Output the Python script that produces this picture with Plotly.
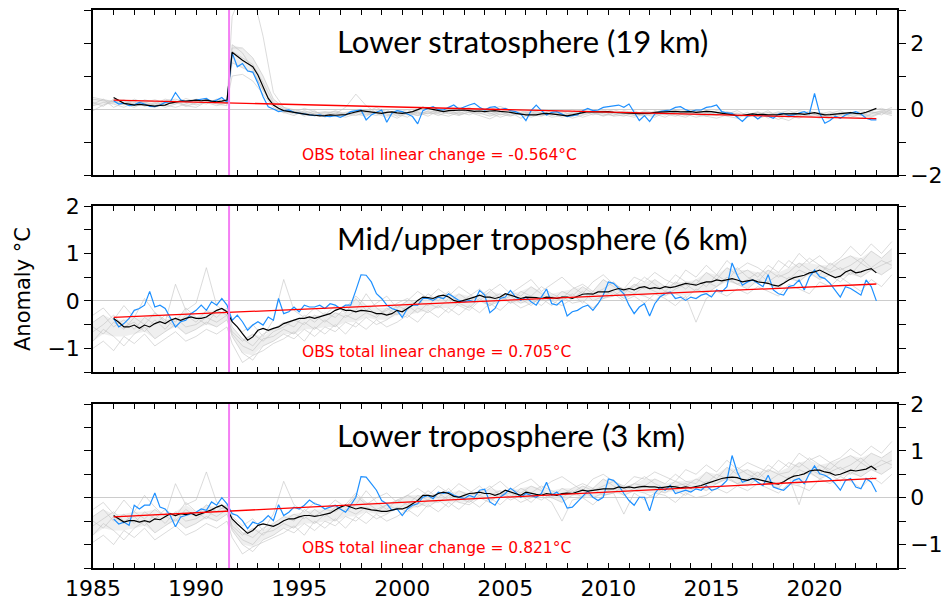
import numpy as np
import plotly.graph_objects as go
from plotly.subplots import make_subplots

# ---------------- data ----------------
OBS_START = 1986.0          # first month of observed / ensemble-mean series
OBS_STEP = 0.25             # quarterly samples
ERUPTION = 1991.6           # Pinatubo
TREND_T = [1986.0, 2023.0]

# ensemble-member time grid (semiannual, with a point just after the eruption)
G_T = np.concatenate([np.arange(1985.0, 1991.6, 0.5), np.arange(1991.75, 2023.8, 0.5)])

TITLES = ["Lower stratosphere (19 km)", "Mid/upper troposphere (6 km)", "Lower troposphere (3 km)"]
TOTAL_CHANGE = [-0.564, 0.705, 0.821]
TREND_START = [0.27, -0.35, -0.41]

# ---- panel 1: lower stratosphere ----
OBS_1 = [
    0.25, 0.15, 0.18, 0.10,
    0.13, 0.20, 0.15, 0.08,
    0.07, 0.12, 0.20, 0.22,
    0.50, 0.28, 0.22, 0.25,
    0.27, 0.30, 0.32, 0.22,
    0.27, 0.35, 0.20, 1.70,
    1.28, 1.38, 1.15, 1.12,
    0.78, 0.37, 0.07, 0.00,
    -0.08, -0.05, -0.03, -0.10,
    -0.13, -0.15, -0.18, -0.20,
    -0.18, -0.22, -0.23, -0.20,
    -0.25, -0.18, -0.08, -0.05,
    -0.03, -0.33, -0.18, -0.10,
    -0.03, -0.40, -0.13, -0.05,
    -0.08, -0.15, -0.23, -0.45,
    -0.05, 0.02, 0.07, -0.02,
    -0.03, 0.05, 0.12, 0.00,
    0.07, 0.12, 0.17, 0.05,
    -0.03, 0.05, 0.07, -0.02,
    0.02, -0.05, -0.08, -0.15,
    -0.35, -0.05, 0.12, -0.05,
    -0.18, -0.10, -0.08, -0.15,
    -0.23, -0.20, -0.18, -0.05,
    0.02, -0.05, -0.03, 0.05,
    0.07, 0.10, 0.12, 0.05,
    0.15, -0.10, -0.35, -0.20,
    -0.38, -0.15, -0.08, -0.05,
    -0.03, 0.05, 0.07, -0.02,
    -0.08, -0.03, -0.03, 0.05,
    0.07, 0.12, -0.08, -0.12,
    -0.13, -0.25, -0.38, -0.22,
    -0.18, -0.30, -0.18, -0.22,
    -0.28, -0.15, -0.13, -0.20,
    -0.18, -0.12, -0.08, -0.15,
    0.47, -0.13, -0.43, -0.35,
    -0.22, -0.28, -0.18, -0.12,
    -0.08, -0.15, -0.28, -0.33,
    -0.33,
]
MEAN_1 = [
    0.35, 0.25, 0.17, 0.15,
    0.12, 0.14, 0.12, 0.10,
    0.09, 0.11, 0.12, 0.18,
    0.22, 0.24, 0.24, 0.25,
    0.27, 0.25, 0.27, 0.24,
    0.22, 0.24, 0.27, 1.72,
    1.59, 1.48, 1.38, 1.28,
    1.03, 0.68, 0.32, 0.12,
    0.02, -0.05, -0.08, -0.11,
    -0.13, -0.15, -0.18, -0.19,
    -0.21, -0.20, -0.18, -0.19,
    -0.18, -0.17, -0.13, -0.10,
    -0.05, -0.07, -0.09, -0.12,
    -0.13, -0.10, -0.09, -0.12,
    -0.13, -0.11, -0.08, -0.02,
    0.05, 0.02, -0.01, -0.04,
    -0.08, -0.05, -0.04, -0.03,
    -0.03, -0.05, -0.07, -0.06,
    -0.08, -0.06, -0.05, -0.07,
    -0.08, -0.10, -0.13, -0.16,
    -0.18, -0.18, -0.18, -0.15,
    -0.13, -0.15, -0.17, -0.19,
    -0.21, -0.18, -0.14, -0.10,
    -0.08, -0.09, -0.08, -0.09,
    -0.08, -0.10, -0.11, -0.12,
    -0.11, -0.12, -0.14, -0.13,
    -0.13, -0.10, -0.09, -0.08,
    -0.08, -0.07, -0.09, -0.08,
    -0.08, -0.10, -0.08, -0.07,
    -0.08, -0.10, -0.13, -0.16,
    -0.18, -0.20, -0.19, -0.16,
    -0.15, -0.17, -0.16, -0.18,
    -0.18, -0.17, -0.15, -0.14,
    -0.13, -0.14, -0.16, -0.14,
    -0.11, -0.15, -0.18, -0.17,
    -0.16, -0.14, -0.12, -0.11,
    -0.13, -0.14, -0.10, -0.04,
    0.02,
]
MEMBERS_1 = [
    [0.30, 0.25, 0.20, 0.28, 0.15, 0.22, 0.10, 0.25, 0.30, 0.20, 0.28, 0.18, 0.25, 0.20,
     1.95, 1.70, 1.20, 0.55, 0.10,
     -0.05, -0.15, -0.10, -0.20, -0.15,
     -0.22, -0.10, -0.05, -0.12, -0.20, -0.08, -0.15, -0.25, -0.05, 0.02,
     -0.10, -0.05, 0.05, -0.12, -0.02, -0.15, -0.08, -0.20, -0.12, -0.25,
     -0.15, -0.05, -0.18, -0.10, -0.02, -0.12, -0.20, -0.08, -0.15, -0.05,
     -0.18, -0.10, -0.02, -0.12, -0.20, -0.15, -0.05, -0.12, -0.22, -0.28,
     -0.15, -0.22, -0.10, -0.18, -0.25, -0.12, -0.20, -0.15, -0.08, -0.18,
     -0.10, -0.20, -0.05, 0.02, -0.08],
    [0.10, 0.20, 0.15, 0.05, 0.20, 0.12, 0.18, 0.05, 0.15, 0.25, 0.12, 0.20, 0.10, 0.18,
     2.80, 3.60, 3.50, 2.20, 0.50,
     0.05, -0.10, 0.02, -0.08, -0.18,
     -0.05, -0.15, -0.20, -0.10, 0.05, -0.12, -0.05, -0.18, -0.10, -0.22,
     -0.05, -0.15, -0.08, 0.05, -0.10, -0.02, 0.08, -0.05, -0.15, -0.08,
     -0.20, -0.12, -0.25, -0.15, -0.05, -0.18, -0.10, -0.02, -0.12, -0.20,
     -0.08, -0.15, -0.25, -0.10, -0.05, -0.18, -0.22, -0.10, -0.15, -0.05,
     -0.20, -0.10, -0.28, -0.15, -0.12, -0.22, -0.05, -0.18, -0.25, -0.10,
     -0.15, -0.05, -0.12, -0.08, 0.05],
    [0.35, 0.28, 0.22, 0.12, 0.30, 0.18, 0.05, 0.20, 0.15, 0.32, 0.22, 0.15, 0.30, 0.25,
     1.00, 1.05, 0.85, 0.45, 0.05,
     -0.12, -0.05, -0.22, -0.12, -0.08,
     -0.15, 0.05, 0.45, 0.10, -0.12, -0.20, -0.10, -0.02, -0.15, -0.08,
     -0.20, -0.08, -0.15, -0.02, -0.12, -0.22, -0.10, -0.05, -0.18, -0.10,
     -0.05, -0.20, -0.10, -0.02, -0.15, -0.08, -0.02, -0.15, -0.22, -0.10,
     -0.12, -0.20, -0.08, -0.02, -0.10, -0.05, -0.15, -0.20, -0.08, -0.15,
     -0.25, -0.12, -0.18, -0.32, -0.15, -0.05, -0.12, -0.20, -0.15, -0.25,
     -0.18, -0.12, -0.22, -0.10, -0.15],
    [0.20, 0.08, 0.30, 0.25, 0.10, 0.28, 0.20, 0.12, 0.05, 0.15, 0.30, 0.25, 0.15, 0.10,
     1.75, 1.55, 1.35, 0.80, 0.20,
     0.00, -0.08, -0.18, -0.05, -0.25,
     -0.12, -0.20, -0.08, -0.18, -0.10, -0.02, -0.22, -0.12, -0.08, -0.15,
     0.00, -0.12, -0.20, -0.08, -0.15, -0.05, -0.18, -0.10, -0.28, -0.15,
     -0.10, -0.18, -0.05, -0.22, -0.12, -0.02, -0.15, -0.20, -0.05, -0.12,
     -0.22, -0.05, -0.15, -0.22, -0.12, -0.02, -0.10, -0.18, -0.12, -0.20,
     -0.10, -0.30, -0.18, -0.08, -0.20, -0.28, -0.15, -0.10, -0.20, -0.12,
     -0.25, -0.15, -0.08, -0.18, 0.00],
    [0.15, 0.30, 0.05, 0.18, 0.25, 0.08, 0.15, 0.30, 0.22, 0.08, 0.18, 0.30, 0.20, 0.28,
     1.85, 1.85, 1.55, 1.00, 0.30,
     0.05, -0.02, -0.12, -0.18, -0.10,
     -0.08, -0.18, -0.12, -0.02, -0.15, -0.25, -0.05, -0.10, -0.20, -0.12,
     -0.15, -0.22, -0.10, -0.18, -0.05, -0.12, -0.25, -0.15, -0.05, -0.18,
     -0.22, -0.10, -0.15, -0.28, -0.18, -0.10, -0.22, -0.12, -0.08, -0.18,
     -0.05, -0.12, -0.18, -0.08, -0.15, -0.25, -0.18, -0.05, -0.10, -0.22,
     -0.18, -0.08, -0.22, -0.12, -0.05, -0.15, -0.22, -0.28, -0.12, -0.05,
     -0.20, -0.28, -0.15, -0.05, -0.12],
    [-0.05, 0.12, 0.25, 0.15, 0.05, 0.20, 0.28, 0.18, 0.25, 0.10, 0.05, 0.22, 0.28, 0.15,
     1.40, 1.25, 1.10, 0.60, 0.15,
     -0.10, -0.20, -0.05, -0.15, -0.22,
     -0.18, -0.25, -0.15, -0.22, -0.05, -0.15, -0.28, -0.12, -0.20, -0.05,
     -0.12, 0.02, -0.18, -0.10, -0.20, -0.30, -0.15, -0.22, -0.10, -0.05,
     -0.12, -0.25, -0.20, -0.12, -0.25, -0.15, -0.05, -0.22, -0.18, -0.25,
     -0.15, -0.25, -0.10, -0.18, -0.25, -0.10, -0.22, -0.28, -0.18, -0.12,
     -0.22, -0.18, -0.05, -0.25, -0.35, -0.18, -0.10, -0.22, -0.30, -0.20,
     -0.10, -0.18, -0.25, -0.12, -0.20],
]

# ---- panel 2: mid/upper troposphere ----
OBS_2 = [
    -0.37, -0.55, -0.48, -0.37,
    -0.20, -0.16, -0.09, 0.20,
    -0.13, -0.09, -0.16, -0.37,
    -0.55, -0.44, -0.41, -0.27,
    -0.20, -0.09, -0.20, -0.02,
    -0.09, 0.05, -0.09, -0.41,
    -0.30, -0.44, -0.62, -0.51,
    -0.44, -0.51, -0.34, -0.41,
    0.05, -0.27, -0.23, -0.13,
    -0.23, -0.09, -0.13, -0.13,
    -0.09, -0.16, -0.06, -0.09,
    -0.16, -0.09, -0.09, 0.22,
    0.55, 0.54, 0.40, 0.15,
    0.05, -0.09, -0.16, -0.20,
    -0.35, -0.16, -0.09, -0.09,
    0.05, 0.05, 0.01, 0.08,
    0.05, 0.15, 0.08, 0.01,
    -0.02, 0.01, -0.02, 0.22,
    0.12, -0.25, -0.16, 0.05,
    0.08, 0.22, 0.08, 0.01,
    0.08, -0.02, -0.09, 0.08,
    0.25, -0.06, -0.09, 0.01,
    -0.32, -0.23, -0.20, -0.13,
    -0.09, -0.20, -0.06, 0.12,
    0.40, 0.37, 0.26, 0.15,
    -0.09, -0.27, -0.13, -0.06,
    -0.32, -0.06, 0.08, 0.15,
    0.19, 0.05, 0.08, 0.01,
    0.08, 0.05, 0.12, 0.15,
    0.08, 0.23, 0.19, 0.30,
    0.80, 0.54, 0.33, 0.40,
    0.44, 0.37, 0.30, 0.55,
    0.23, 0.15, 0.12, 0.30,
    0.33, 0.44, 0.23, 0.50,
    0.65, 0.51, 0.47, 0.37,
    0.23, 0.08, 0.30, 0.26,
    0.19, 0.12, 0.44, 0.30,
    0.00,
]
MEAN_2 = [
    -0.37, -0.45, -0.55, -0.55,
    -0.51, -0.58, -0.51, -0.55,
    -0.48, -0.44, -0.48, -0.41,
    -0.37, -0.41, -0.37, -0.34,
    -0.37, -0.37, -0.34, -0.27,
    -0.20, -0.16, -0.23, -0.44,
    -0.55, -0.69, -0.83, -0.76,
    -0.62, -0.58, -0.62, -0.58,
    -0.55, -0.48, -0.44, -0.41,
    -0.37, -0.37, -0.34, -0.37,
    -0.34, -0.30, -0.27, -0.20,
    -0.16, -0.20, -0.20, -0.23,
    -0.20, -0.21, -0.23, -0.27,
    -0.27, -0.30, -0.27, -0.20,
    -0.23, -0.16, -0.09, 0.01,
    0.08, 0.07, 0.05, 0.10,
    0.12, 0.08, 0.01, -0.02,
    0.01, 0.05, 0.08, 0.12,
    0.08, 0.08, 0.05, 0.08,
    0.15, 0.12, 0.08, 0.05,
    0.08, 0.08, 0.07, 0.05,
    0.08, 0.07, 0.05, 0.08,
    0.08, 0.05, 0.10, 0.14,
    0.15, 0.14, 0.19, 0.19,
    0.19, 0.23, 0.26, 0.23,
    0.26, 0.23, 0.28, 0.30,
    0.26, 0.28, 0.26, 0.30,
    0.28, 0.30, 0.33, 0.37,
    0.35, 0.33, 0.37, 0.40,
    0.40, 0.44, 0.42, 0.45,
    0.47, 0.44, 0.40, 0.42,
    0.44, 0.40, 0.38, 0.37,
    0.33, 0.31, 0.37, 0.44,
    0.49, 0.52, 0.54, 0.59,
    0.61, 0.65, 0.59, 0.54,
    0.49, 0.52, 0.61, 0.65,
    0.59, 0.61, 0.65, 0.68,
    0.59,
]
MEMBERS_2 = [
    [-0.55, -0.70, -0.45, -0.60, -0.35, -0.50, -0.25, -0.40, -0.55, -0.30, -0.45, -0.20, -0.35, -0.15,
     -0.55, -0.80, -0.95, -0.70, -0.60,
     -0.45, -0.55, -0.30, -0.45, -0.25,
     -0.35, -0.15, 0.10, -0.10, -0.30, -0.20, -0.05, 0.05, -0.10, 0.15,
     0.00, 0.20, -0.05, 0.10, 0.25, 0.05, 0.15, -0.05, 0.20, 0.10,
     0.30, 0.15, 0.05, 0.25, 0.35, 0.20, 0.45, 0.30, 0.15, 0.35,
     0.25, 0.45, 0.30, 0.55, 0.40, 0.35, 0.60, 0.45, 0.70, 0.55,
     0.65, 0.50, 0.75, 0.60, 0.85, 0.70, 0.90, 0.75, 0.65, 0.85,
     0.95, 0.80, 1.05, 0.90, 1.10],
    [-0.85, -0.60, -0.75, -0.95, -0.70, -0.55, -0.80, -0.65, -0.50, -0.70, -0.60, -0.45, -0.55, -0.40,
     -0.75, -1.10, -1.25, -0.95, -0.85,
     -0.70, -0.80, -0.60, -0.75, -0.55,
     -0.65, -0.45, -0.55, -0.35, -0.50, -0.40, -0.25, -0.35, -0.15, -0.25,
     -0.10, -0.25, -0.05, -0.15, 0.05, -0.10, 0.00, 0.10, -0.05, 0.05,
     -0.10, 0.10, 0.00, 0.15, -0.05, 0.20, 0.05, 0.10, 0.25, 0.15,
     0.30, 0.20, 0.10, 0.25, 0.35, 0.20, 0.40, 0.30, 0.50, 0.35,
     0.45, 0.60, 0.40, 0.55, 0.45, 0.65, 0.55, 0.75, 0.60, 0.70,
     0.55, 0.80, 0.65, 0.75, 0.85],
    [-0.30, -0.15, -0.40, -0.10, -0.35, 0.05, -0.25, -0.45, 0.35, -0.20, -0.05, 0.70, -0.10, -0.25,
     -0.45, -0.65, -0.50, -0.75, -0.40,
     0.45, -0.20, -0.35, -0.15, -0.30,
     -0.10, -0.25, 0.05, -0.20, -0.05, 0.10, -0.15, 0.00, 0.20, 0.05,
     0.25, 0.10, 0.30, 0.15, 0.00, 0.20, 0.35, 0.15, 0.30, 0.45,
     0.20, 0.35, 0.50, 0.30, 0.15, 0.40, 0.55, 0.35, 0.25, 0.50,
     0.40, 0.60, 0.45, 0.35, 0.65, 0.50, 0.75, 0.55, 0.85, 0.65,
     0.80, 0.70, 0.55, 0.85, 0.70, 1.00, 0.80, 0.95, 0.75, 0.90,
     1.15, 0.95, 1.20, 1.00, 1.25],
    [-1.00, -0.85, -1.05, -0.75, -0.90, -0.70, -0.95, -0.80, -0.65, -0.85, -0.75, -0.60, -0.70, -0.55,
     -0.90, -1.30, -1.15, -1.05, -0.90,
     -0.80, -0.65, -0.85, -0.55, -0.70,
     -0.50, -0.70, -0.45, -0.60, -0.40, -0.55, -0.45, -0.30, -0.45, -0.20,
     -0.35, -0.15, -0.30, -0.10, -0.25, -0.05, -0.20, 0.00, -0.15, -0.05,
     0.05, -0.10, 0.10, -0.05, 0.00, -0.15, 0.05, 0.15, 0.00, 0.10,
     -0.05, 0.15, 0.05, -0.10, 0.10, -0.45, 0.05, 0.20, 0.10, 0.25,
     0.15, 0.30, 0.20, 0.10, 0.35, 0.25, 0.15, 0.40, 0.30, 0.50,
     0.35, 0.20, 0.45, 0.30, 0.55],
    [-0.45, -0.30, -0.55, -0.40, -0.60, -0.35, -0.50, -0.30, -0.45, -0.15, -0.35, -0.50, -0.20, -0.30,
     -0.65, -0.85, -0.70, -0.85, -0.65,
     -0.55, -0.40, -0.50, -0.30, -0.45,
     -0.25, -0.35, -0.20, 0.15, -0.15, -0.30, -0.10, -0.20, 0.00, -0.10,
     0.10, -0.05, 0.15, 0.00, 0.10, 0.25, 0.05, 0.20, 0.10, 0.30,
     0.15, 0.00, 0.20, 0.10, 0.30, 0.15, 0.25, 0.40, 0.20, 0.30,
     0.50, 0.35, 0.20, 0.40, 0.25, 0.45, 0.30, 0.55, 0.40, 0.70,
     0.50, 0.40, 0.65, 0.50, 0.60, 0.80, 0.65, 0.55, 0.80, 0.65,
     0.75, 0.90, 0.70, 0.85, 0.75],
    [-0.65, -0.50, -0.30, -0.55, -0.45, -0.65, -0.40, -0.60, -0.35, -0.55, -0.50, -0.35, -0.45, -0.30,
     -0.70, -0.95, -1.05, -0.80, -0.75,
     -0.60, -0.70, -0.45, -0.60, -0.40,
     -0.55, -0.30, -0.40, -0.25, -0.35, -0.15, -0.30, -0.10, -0.25, -0.05,
     -0.15, 0.05, -0.10, -0.20, 0.00, -0.10, 0.10, -0.05, 0.05, -0.10,
     0.10, 0.00, -0.10, 0.05, 0.20, 0.00, 0.10, 0.20, 0.05, 0.15,
     0.10, 0.00, 0.20, 0.15, 0.05, 0.25, 0.15, 0.30, 0.45, 0.35,
     0.25, 0.45, 0.35, 0.25, 0.50, 0.40, 0.60, 0.45, 0.55, 0.40,
     0.60, 0.50, 0.65, 0.55, 0.70],
]

# ---- panel 3: lower troposphere ----
OBS_3 = [
    -0.45, -0.56, -0.52, -0.59,
    -0.16, -0.24, -0.16, -0.16,
    0.10, -0.20, -0.24, -0.38,
    -0.62, -0.41, -0.38, -0.34,
    -0.31, -0.24, -0.27, -0.09,
    -0.16, 0.00, -0.13, -0.34,
    -0.38, -0.49, -0.66, -0.52,
    -0.56, -0.49, -0.38, -0.49,
    -0.15, -0.38, -0.31, -0.20,
    -0.24, -0.16, -0.05, -0.13,
    -0.16, -0.24, -0.20, -0.16,
    -0.24, -0.31, -0.16, 0.01,
    0.45, 0.44, 0.30, 0.16,
    -0.06, -0.13, -0.27, -0.24,
    -0.38, -0.24, -0.16, -0.13,
    0.01, 0.05, -0.02, 0.12,
    0.09, 0.12, 0.05, 0.01,
    -0.02, 0.05, 0.01, 0.16,
    0.18, -0.09, -0.16, 0.01,
    0.09, 0.20, 0.12, 0.01,
    0.09, 0.05, 0.01, 0.09,
    0.33, 0.05, 0.12, 0.01,
    -0.22, -0.20, -0.09, 0.01,
    0.14, 0.01, -0.06, 0.01,
    0.40, 0.37, 0.26, 0.09,
    -0.06, -0.16, 0.01, 0.01,
    -0.28, 0.09, 0.23, 0.16,
    0.26, 0.09, 0.12, 0.16,
    0.12, 0.19, 0.16, 0.26,
    0.16, 0.19, 0.26, 0.37,
    0.90, 0.55, 0.33, 0.37,
    0.41, 0.33, 0.26, 0.48,
    0.23, 0.19, 0.16, 0.26,
    0.37, 0.41, 0.30, 0.51,
    0.68, 0.51, 0.48, 0.41,
    0.30, 0.16, 0.37, 0.41,
    0.23, 0.19, 0.41, 0.33,
    0.12,
]
MEAN_3 = [
    -0.38, -0.45, -0.52, -0.49,
    -0.49, -0.52, -0.49, -0.52,
    -0.45, -0.47, -0.41, -0.34,
    -0.38, -0.34, -0.36, -0.33,
    -0.38, -0.34, -0.31, -0.26,
    -0.20, -0.16, -0.24, -0.45,
    -0.56, -0.66, -0.76, -0.70,
    -0.59, -0.56, -0.59, -0.61,
    -0.56, -0.49, -0.45, -0.45,
    -0.41, -0.38, -0.38, -0.40,
    -0.38, -0.36, -0.33, -0.26,
    -0.20, -0.16, -0.20, -0.24,
    -0.21, -0.24, -0.26, -0.27,
    -0.29, -0.29, -0.27, -0.24,
    -0.24, -0.20, -0.13, -0.06,
    0.05, 0.05, 0.03, 0.09,
    0.12, 0.09, 0.03, 0.01,
    0.05, 0.09, 0.10, 0.12,
    0.09, 0.09, 0.05, 0.09,
    0.16, 0.12, 0.09, 0.05,
    0.12, 0.09, 0.07, 0.05,
    0.09, 0.07, 0.05, 0.09,
    0.10, 0.09, 0.12, 0.16,
    0.14, 0.16, 0.17, 0.19,
    0.19, 0.19, 0.23, 0.21,
    0.23, 0.21, 0.23, 0.24,
    0.23, 0.23, 0.21, 0.23,
    0.24, 0.23, 0.21, 0.23,
    0.21, 0.24, 0.26, 0.30,
    0.34, 0.37, 0.41, 0.43,
    0.44, 0.43, 0.39, 0.37,
    0.41, 0.39, 0.36, 0.34,
    0.31, 0.29, 0.34, 0.41,
    0.46, 0.48, 0.51, 0.57,
    0.59, 0.59, 0.55, 0.53,
    0.48, 0.50, 0.55, 0.59,
    0.57, 0.59, 0.61, 0.67,
    0.59,
]
MEMBERS_3 = [
    [-0.50, -0.65, -0.40, -0.55, -0.30, -0.45, -0.25, -0.40, -0.50, -0.25, -0.40, -0.15, -0.30, -0.15,
     -0.50, -0.75, -0.85, -0.65, -0.55,
     -0.40, -0.50, -0.25, -0.40, -0.25,
     -0.30, -0.15, 0.10, -0.10, -0.25, -0.15, -0.05, 0.05, -0.05, 0.15,
     0.00, 0.20, -0.05, 0.10, 0.25, 0.05, 0.15, 0.00, 0.20, 0.10,
     0.25, 0.15, 0.05, 0.20, 0.30, 0.20, 0.40, 0.25, 0.15, 0.30,
     0.25, 0.40, 0.30, 0.50, 0.35, 0.30, 0.55, 0.40, 0.65, 0.50,
     0.60, 0.45, 0.70, 0.55, 0.75, 0.65, 0.85, 0.70, 0.60, 0.80,
     0.90, 0.75, 0.95, 0.85, 1.00],
    [-0.80, -0.55, -0.70, -0.90, -0.65, -0.50, -0.75, -0.60, -0.45, -0.65, -0.55, -0.40, -0.50, -0.35,
     -0.70, -1.00, -1.15, -0.90, -0.80,
     -0.65, -0.75, -0.55, -0.70, -0.50,
     -0.60, -0.40, -0.50, -0.30, -0.45, -0.35, -0.20, -0.30, -0.10, -0.20,
     -0.05, -0.20, 0.00, -0.10, 0.05, -0.05, 0.05, 0.10, 0.00, 0.05,
     -0.05, 0.10, 0.00, 0.15, 0.00, 0.20, 0.05, 0.10, 0.25, 0.15,
     0.25, 0.20, 0.10, 0.25, 0.30, 0.20, 0.35, 0.30, 0.45, 0.30,
     0.40, 0.55, 0.35, 0.50, 0.40, 0.60, 0.50, 0.70, 0.55, 0.65,
     0.50, 0.75, 0.60, 0.70, 0.80],
    [-0.25, -0.10, -0.35, -0.05, -0.30, 0.05, -0.20, -0.40, 0.30, -0.15, -0.05, 0.55, -0.10, -0.20,
     -0.40, -0.60, -0.45, -0.70, -0.35,
     0.35, -0.15, -0.30, -0.10, -0.25,
     -0.05, -0.20, 0.05, -0.15, 0.00, 0.10, -0.10, 0.05, 0.20, 0.05,
     0.25, 0.10, 0.30, 0.15, 0.05, 0.20, 0.35, 0.15, 0.30, 0.40,
     0.20, 0.35, 0.45, 0.30, 0.15, 0.40, 0.50, 0.35, 0.25, 0.45,
     0.40, 0.55, 0.45, 0.35, 0.60, 0.50, 0.70, 0.55, 0.80, 0.60,
     0.75, 0.65, 0.55, 0.80, 0.65, 0.95, 0.80, 0.90, 0.75, 0.85,
     1.05, 0.90, 1.10, 0.95, 1.20],
    [-0.95, -0.80, -1.00, -0.70, -0.85, -0.65, -0.90, -0.75, -0.60, -0.80, -0.70, -0.55, -0.65, -0.50,
     -0.85, -1.20, -1.05, -0.95, -0.85,
     -0.75, -0.60, -0.80, -0.50, -0.65,
     -0.45, -0.65, -0.40, -0.55, -0.35, -0.50, -0.40, -0.25, -0.40, -0.15,
     -0.30, -0.10, -0.25, -0.05, -0.20, 0.00, -0.15, 0.05, -0.10, 0.00,
     0.05, -0.10, -0.50, -0.05, 0.00, -0.15, 0.05, 0.10, -0.35, 0.10,
     -0.05, 0.10, 0.05, -0.10, 0.10, 0.00, 0.05, 0.20, 0.10, 0.25,
     0.15, 0.30, 0.20, 0.10, 0.30, 0.25, 0.15, 0.40, 0.30, 0.45,
     0.35, 0.20, 0.45, 0.30, 0.50],
    [-0.40, -0.25, -0.50, -0.35, -0.55, -0.30, -0.45, -0.25, -0.40, -0.10, -0.30, -0.45, -0.20, -0.25,
     -0.60, -0.80, -0.65, -0.80, -0.60,
     -0.50, -0.35, -0.45, -0.25, -0.40,
     -0.20, -0.30, -0.15, 0.15, -0.10, -0.25, -0.05, -0.15, 0.05, -0.05,
     0.10, -0.05, 0.15, 0.05, 0.10, 0.25, 0.05, 0.20, 0.10, 0.25,
     0.15, 0.00, 0.20, 0.10, 0.25, 0.15, 0.25, 0.35, 0.20, 0.30,
     0.45, 0.30, 0.20, 0.35, 0.25, 0.40, 0.30, 0.50, 0.40, 0.65,
     0.50, 0.40, 0.60, 0.50, 0.55, 0.75, 0.60, 0.50, 0.75, 0.60,
     0.70, 0.85, 0.65, 0.80, 0.70],
    [-0.60, -0.45, -0.30, -0.50, -0.40, -0.60, -0.35, -0.55, -0.30, -0.50, -0.45, -0.30, -0.40, -0.25,
     -0.65, -0.90, -1.00, -0.75, -0.70,
     -0.55, -0.65, -0.40, -0.55, -0.35,
     -0.50, -0.25, -0.35, -0.20, -0.30, -0.15, -0.25, -0.10, -0.20, -0.05,
     -0.10, 0.05, -0.10, -0.15, 0.00, -0.10, 0.10, -0.05, 0.05, -0.10,
     0.10, 0.00, -0.10, 0.05, 0.15, 0.00, 0.10, 0.20, 0.05, 0.15,
     0.10, 0.00, 0.20, 0.15, 0.05, 0.25, 0.15, 0.30, 0.40, 0.30,
     0.25, 0.40, 0.30, 0.20, 0.45, -0.15, 0.55, 0.40, 0.50, 0.35,
     0.55, 0.45, 0.60, 0.50, 0.65],
]

OBS = [OBS_1, OBS_2, OBS_3]
MEAN = [MEAN_1, MEAN_2, MEAN_3]
MEMBERS = [MEMBERS_1, MEMBERS_2, MEMBERS_3]

Y_RANGES = [[-2, 3], [-1.5, 2], [-1.5, 2]]
Y_DTICK = [2, 1, 1]
Y_MINOR = [1, 0.5, 0.5]
Y_SIDE = ["right", "left", "right"]

# ---------------- figure ----------------
W, H = 947, 608
ML, MR, MT, MB = 93, 50, 10, 40
PH = H - MT - MB

def dom(top_px, bot_px):
    return [(H - MB - bot_px) / PH, (H - MB - top_px) / PH]

DOMAINS = [dom(10, 175), dom(206, 372), dom(404, 568)]

fig = make_subplots(rows=3, cols=1, shared_xaxes=True)

GRAY = "rgba(195,195,195,0.6)"
BAND = "rgba(228,228,228,0.6)"
BLUE = "#1e90ff"
TICKFONT = dict(family="DejaVu Sans", size=22, color="black")

for i in range(3):
    r = i + 1
    t_obs = OBS_START + OBS_STEP * np.arange(len(OBS[i]))
    t_mean = OBS_START + OBS_STEP * np.arange(len(MEAN[i]))
    srt = np.sort(np.array(MEMBERS[i]), axis=0)
    lo, hi = srt[1], srt[-2]           # inner envelope of the ensemble
    fig.add_trace(go.Scatter(x=G_T, y=lo, mode="lines", line=dict(width=0, color=BAND),
                             hoverinfo="skip", showlegend=False), row=r, col=1)
    fig.add_trace(go.Scatter(x=G_T, y=hi, mode="lines", line=dict(width=0, color=BAND),
                             fill="tonexty", fillcolor=BAND,
                             hoverinfo="skip", showlegend=False), row=r, col=1)
    for m in MEMBERS[i]:
        fig.add_trace(go.Scatter(x=G_T[:len(m)], y=m, mode="lines",
                                 line=dict(color=GRAY, width=1),
                                 hoverinfo="skip", showlegend=False), row=r, col=1)
    fig.add_trace(go.Scatter(x=t_obs, y=OBS[i], mode="lines",
                             line=dict(color=BLUE, width=1.2), showlegend=False), row=r, col=1)
    fig.add_trace(go.Scatter(x=t_mean, y=MEAN[i], mode="lines",
                             line=dict(color="black", width=1.2), showlegend=False), row=r, col=1)
    fig.add_trace(go.Scatter(x=TREND_T, y=[TREND_START[i], TREND_START[i] + TOTAL_CHANGE[i]],
                             mode="lines", line=dict(color="red", width=1.3),
                             showlegend=False), row=r, col=1)
    fig.add_vline(x=ERUPTION, line=dict(color="#f47ef4", width=2), row=r, col=1)

    xref = "x domain" if r == 1 else f"x{r} domain"
    yref = "y domain" if r == 1 else f"y{r} domain"
    fig.add_annotation(text=TITLES[i], xref=xref, yref=yref, x=0.301, y=0.81,
                       xanchor="left", yanchor="middle", showarrow=False,
                       font=dict(family="Lato", size=31, color="black"))
    fig.add_annotation(text=f"OBS total linear change = {TOTAL_CHANGE[i]:.3f}°C",
                       xref=xref, yref=yref, x=0.2575, y=0.12,
                       xanchor="left", yanchor="middle", showarrow=False,
                       font=dict(family="DejaVu Sans", size=15.5, color="red"))

    ax = dict(range=[1985, 2024], tickmode="linear", tick0=1985, dtick=5,
              ticks="inside", ticklen=5, tickwidth=1.2, tickcolor="black",
              minor=dict(dtick=1, tick0=1985, ticks="inside", ticklen=5, tickcolor="black",
                         tickwidth=1, showgrid=False),
              showline=True, linecolor="black", linewidth=1.5, mirror="ticks",
              showgrid=False, zeroline=False, tickfont=TICKFONT, automargin=False,
              showticklabels=(r == 3))
    ay = dict(range=Y_RANGES[i], domain=DOMAINS[i], side=Y_SIDE[i],
              tickmode="linear", tick0=0, dtick=Y_DTICK[i],
              ticks="outside", ticklen=7, tickwidth=1.2, tickcolor="black",
              minor=dict(dtick=Y_MINOR[i], tick0=0, ticks="outside", ticklen=7,
                         tickcolor="black", tickwidth=1.2, showgrid=False),
              showline=True, linecolor="black", linewidth=1.5, mirror="ticks",
              showgrid=False, zeroline=True, zerolinecolor="#cccccc", zerolinewidth=1,
              tickfont=TICKFONT, automargin=False)
    fig.update_xaxes(ax, row=r, col=1)
    fig.update_yaxes(ay, row=r, col=1)

fig.add_annotation(text="Anomaly °C", xref="paper", yref="y2 domain",
                   x=(23 - ML) / (W - ML - MR), y=0.5, textangle=-90,
                   xanchor="center", yanchor="middle", showarrow=False,
                   font=dict(family="DejaVu Sans", size=21, color="black"))

fig.update_layout(template="none", width=W, height=H,
                  margin=dict(l=ML, r=MR, t=MT, b=MB, autoexpand=False),
                  plot_bgcolor="white", paper_bgcolor="white", showlegend=False)

fig.write_html("out.html")
